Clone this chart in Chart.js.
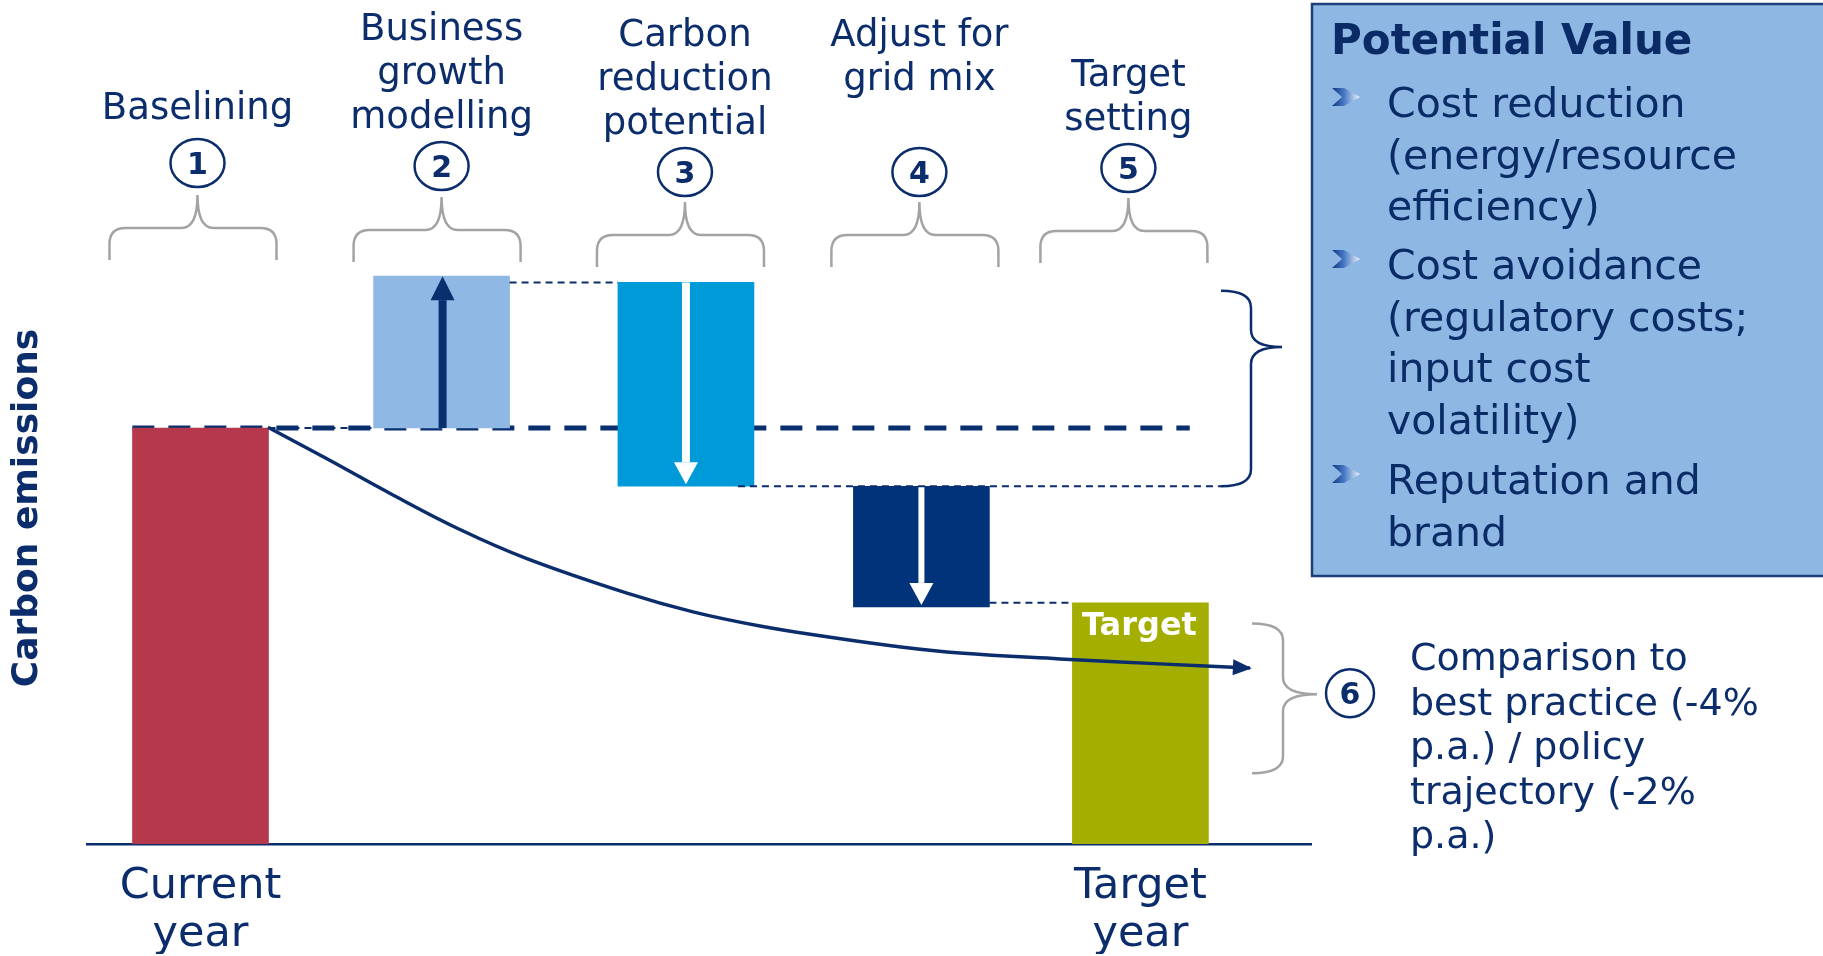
<!DOCTYPE html>
<html>
  <head>
    <meta charset="utf-8">
    <script src="https://cdn.jsdelivr.net/npm/chart.js"></script>
    <style>
      html, body { margin: 0; background: #fff; }
    </style>
  </head>
  <body>
    <div style="width: 1823px; height: 956px; position: relative">
      <canvas id="myChart"></canvas>
    </div>

    <script>
      const ctx = document.getElementById('myChart');

      // steps of the waterfall
      const stepTitles = [
        ['Baselining'],
        ['Business', 'growth', 'modelling'],
        ['Carbon', 'reduction', 'potential'],
        ['Adjust for', 'grid mix'],
        ['Target', 'setting']
      ];
      const stepNumbers = ['1', '2', '3', '4', '5'];
      const stepX = [0, 1.026, 2.066, 3.068, 4.0];
      const barLow = [0, 100, 86, 57, 0];
      const barHigh = [100, 136.5, 135, 86, 58];
      const barColors = ['#b5384d', '#8fb9e4', '#009ad8', '#00337a', '#a3ae00'];
      const barArrows = [null, 'up', 'down', 'down', null];

      // baseline (current emissions carried forward)
      const baselineValue = 100;
      const baselineX = [-0.29, 4.21];

      // emissions trajectory curve
      const trajX = [0.287, 0.538, 0.819, 1.104, 1.389, 1.815, 2.096, 2.381, 2.666, 2.947, 3.232, 3.657, 4.083, 4.466];
      const trajY = [100.2, 92.6, 83.9, 75.6, 68.6, 60.3, 55.8, 52.4, 49.8, 47.6, 45.9, 44.5, 43.3, 42.3];

      // axis labels
      const axisLabels = { 0: ['Current', 'year'], 4: ['Target', 'year'] };
      const yTitle = 'Carbon emissions';

      // right hand annotations
      const reductionBrace = [133, 119.5, 86]; // top, tip, bottom
      const benchmarkBrace = [53, 36, 17];
      const comparisonText = ['Comparison to', 'best practice (-4%', 'p.a.) / policy', 'trajectory (-2%', 'p.a.)'];
      const boxTitle = 'Potential Value';
      const boxBullets = [
        ['Cost reduction', '(energy/resource', 'efficiency)'],
        ['Cost avoidance', '(regulatory costs;', 'input cost', 'volatility)'],
        ['Reputation and', 'brand']
      ];

      const NAVY = '#0c2d6c';
      const GREY = '#a3a3a3';
      const FONT = "'DejaVu Sans', Verdana, sans-serif";

      // small layout nudges
      const stepDx = [-3, 0, -1, -2, -12];
      const titleBase = [119, 40, 46, 46, 86];
      const circleY = [163, 166, 172, 172, 168];
      const braceTop = [195, 197, 202, 202, 198];

      function txt(c, s, x, y, size, weight, color, align) {
        c.font = (weight || 'normal') + ' ' + size + 'px ' + FONT;
        c.fillStyle = color;
        c.textAlign = align || 'center';
        c.textBaseline = 'alphabetic';
        c.fillText(s, x, y);
      }

      function numCircle(c, s, x, y, rx, ry) {
        c.beginPath();
        c.ellipse(x, y, rx, ry, 0, 0, Math.PI * 2);
        c.fillStyle = '#fff';
        c.fill();
        c.lineWidth = 2.5;
        c.strokeStyle = NAVY;
        c.stroke();
        txt(c, s, x, y + 11, 30, 'bold', NAVY);
      }

      function topBrace(c, l, r, cx, tip, h, b) {
        const k = 16;
        c.beginPath();
        c.moveTo(l, b);
        c.lineTo(l, h + k);
        c.quadraticCurveTo(l, h, l + k, h);
        c.lineTo(cx - k, h);
        c.quadraticCurveTo(cx, h, cx, tip);
        c.quadraticCurveTo(cx, h, cx + k, h);
        c.lineTo(r - k, h);
        c.quadraticCurveTo(r, h, r, h + k);
        c.lineTo(r, b);
        c.stroke();
      }

      function sideBrace(c, xEnd, xMid, xTip, yTop, yTip, yBot) {
        const k = 17;
        c.beginPath();
        c.moveTo(xEnd, yTop);
        c.quadraticCurveTo(xMid, yTop, xMid, yTop + k);
        c.lineTo(xMid, yTip - k);
        c.quadraticCurveTo(xMid, yTip, xTip, yTip);
        c.quadraticCurveTo(xMid, yTip, xMid, yTip + k);
        c.lineTo(xMid, yBot - k);
        c.quadraticCurveTo(xMid, yBot, xEnd, yBot);
        c.stroke();
      }

      function vArrow(c, x, from, to, shaft, headW, headL, color) {
        const dir = to > from ? 1 : -1;
        c.fillStyle = color;
        const neck = to - dir * headL;
        c.fillRect(x - shaft / 2, Math.min(from, neck), shaft, Math.abs(neck - from));
        c.beginPath();
        c.moveTo(x - headW / 2, neck);
        c.lineTo(x + headW / 2, neck);
        c.lineTo(x, to);
        c.closePath();
        c.fill();
      }

      function dotted(c, x1, x2, y) {
        c.save();
        c.setLineDash([7, 5]);
        c.lineWidth = 2;
        c.strokeStyle = NAVY;
        c.beginPath();
        c.moveTo(x1, y);
        c.lineTo(x2, y);
        c.stroke();
        c.restore();
      }

      function bulletIcon(c, x, y) {
        const g = c.createLinearGradient(x, 0, x + 28, 0);
        g.addColorStop(0, '#0f3580');
        g.addColorStop(0.45, '#4a7cc8');
        g.addColorStop(1, '#eef4fb');
        c.fillStyle = g;
        c.beginPath();
        c.moveTo(x, y - 9);
        c.lineTo(x + 12, y - 9);
        c.lineTo(x + 28, y);
        c.lineTo(x + 12, y + 9);
        c.lineTo(x, y + 9);
        c.lineTo(x + 10, y);
        c.closePath();
        c.fill();
      }

      const annotations = {
        id: 'annotations',
        afterDatasetsDraw(chart) {
          const c = chart.ctx;
          const yS = chart.scales.y;
          const bars = chart.getDatasetMeta(2).data;
          c.save();

          // arrows inside bars
          bars.forEach(function (b, i) {
            const top = Math.min(b.y, b.base), bot = Math.max(b.y, b.base);
            if (barArrows[i] === 'up') vArrow(c, b.x + 1, bot, top, 8, 24, 24, '#0a2f6e');
            if (barArrows[i] === 'down') vArrow(c, b.x, top, bot - 2, i === 2 ? 8 : 6, 24, 22, '#ffffff');
          });

          // thin connectors between bars
          const edge = (i, side) => bars[i].x + side * bars[i].width / 2;
          dotted(c, edge(0, 1), edge(1, -1), yS.getPixelForValue(baselineValue));
          dotted(c, edge(1, 1), edge(2, -1), yS.getPixelForValue(barHigh[2]));
          dotted(c, edge(3, 1), edge(4, -1), yS.getPixelForValue(barHigh[4]));
          const braceEnd = chart.chartArea.right - 90;
          dotted(c, edge(2, 1) - 16, braceEnd, yS.getPixelForValue(barLow[2]));

          // step titles, numbers and braces
          stepTitles.forEach(function (lines, i) {
            const cx = bars[i].x + stepDx[i];
            lines.forEach(function (s, j) {
              txt(c, s, cx, titleBase[i] + j * 44, 37, 'normal', NAVY);
            });
            c.lineWidth = 2.5;
            c.strokeStyle = GREY;
            topBrace(c, cx - 88, cx + 79, cx, braceTop[i], braceTop[i] + 33, braceTop[i] + 65);
            numCircle(c, stepNumbers[i], cx, circleY[i], 27, 24);
          });

          // label in target bar
          const tb = bars[4];
          txt(c, 'Target', tb.x - 1, Math.min(tb.y, tb.base) + 32, 32, 'bold', '#ffffff');

          // arrow head at end of trajectory
          const pts = chart.getDatasetMeta(0).data;
          const end = pts[pts.length - 1];
          const ang = Math.atan2(end.y - end.cp1y, end.x - end.cp1x);
          c.save();
          c.translate(end.x, end.y);
          c.rotate(ang);
          c.fillStyle = NAVY;
          c.beginPath();
          c.moveTo(2, 0);
          c.lineTo(-17, -8);
          c.lineTo(-17, 8);
          c.closePath();
          c.fill();
          c.restore();

          // brace around reduction potential
          const r = chart.chartArea.right;
          c.lineWidth = 2.5;
          c.strokeStyle = NAVY;
          sideBrace(c, braceEnd, r - 60, r - 29,
            yS.getPixelForValue(reductionBrace[0]), yS.getPixelForValue(reductionBrace[1]), yS.getPixelForValue(reductionBrace[2]));

          // brace for benchmark comparison
          c.strokeStyle = GREY;
          sideBrace(c, r - 59, r - 28, r + 6,
            yS.getPixelForValue(benchmarkBrace[0]), yS.getPixelForValue(benchmarkBrace[1]), yS.getPixelForValue(benchmarkBrace[2]));
          const c6y = yS.getPixelForValue(benchmarkBrace[1]) - 1;
          c.beginPath();
          c.arc(r + 39, c6y, 24, 0, Math.PI * 2);
          c.lineWidth = 2.5;
          c.strokeStyle = NAVY;
          c.stroke();
          txt(c, '6', r + 39, c6y + 11, 30, 'bold', NAVY);
          comparisonText.forEach(function (s, j) {
            txt(c, s, r + 99, 670 + j * 44.5, 38, 'normal', NAVY, 'left');
          });

          // potential value box
          c.fillStyle = '#8eb8e3';
          c.fillRect(r, 3, 600, 574);
          c.lineWidth = 2.5;
          c.strokeStyle = '#1d3e7b';
          c.strokeRect(r + 1, 4, 600, 572);
          txt(c, boxTitle, r + 20, 54, 42, 'bold', '#0a2b66', 'left');
          const starts = [117, 279, 494];
          boxBullets.forEach(function (lines, k) {
            bulletIcon(c, r + 21, starts[k] - 20);
            lines.forEach(function (s, j) {
              txt(c, s, r + 76, starts[k] + j * 51.5, 41, 'normal', '#0a2b66', 'left');
            });
          });

          c.restore();
        }
      };

      new Chart(ctx, {
        type: 'bar',
        data: {
          datasets: [
            {
              type: 'line',
              label: 'Trajectory',
              data: trajX.map((x, i) => ({ x: x, y: trajY[i] })),
              borderColor: NAVY,
              borderWidth: 3.5,
              pointRadius: 0,
              tension: 0.4,
              order: 0
            },
            {
              type: 'line',
              label: 'Baseline',
              data: baselineX.map(x => ({ x: x, y: baselineValue })),
              borderColor: '#0a2f6e',
              borderWidth: 5,
              borderDash: [22, 14],
              pointRadius: 0,
              order: 3
            },
            {
              type: 'bar',
              label: 'Emissions',
              data: stepX.map((x, i) => ({ x: x, y: [barLow[i], barHigh[i]] })),
              backgroundColor: barColors,
              barThickness: 136,
              order: 2
            }
          ]
        },
        options: {
          responsive: true,
          maintainAspectRatio: false,
          animation: false,
          layout: { padding: { left: 6, right: 512, top: 172, bottom: 2 } },
          plugins: {
            legend: { display: false },
            tooltip: { enabled: false }
          },
          scales: {
            x: {
              type: 'linear',
              min: -0.483,
              max: 4.726,
              offset: false,
              grid: { display: false, drawTicks: false },
              border: { display: true, color: NAVY, width: 2.5 },
              afterBuildTicks: function (scale) {
                scale.ticks = [{ value: 0 }, { value: 4 }];
              },
              afterFit: function (scale) { scale.height = 110; },
              ticks: {
                autoSkip: false,
                maxRotation: 0,
                padding: 19,
                color: NAVY,
                font: { family: FONT, size: 43, lineHeight: '48px' },
                callback: function (v) { return axisLabels[v] || ''; }
              }
            },
            y: {
              min: 0,
              max: 161.54,
              grid: { display: false, drawTicks: false },
              border: { display: false },
              ticks: { display: false },
              afterFit: function (scale) { scale.width = 81; },
              title: {
                display: true,
                text: yTitle,
                color: NAVY,
                font: { family: FONT, size: 36, weight: 'bold', lineHeight: 1.2 },
                padding: { top: 0, bottom: 0 }
              }
            }
          }
        },
        plugins: [annotations]
      });
    </script>
  </body>
</html>
